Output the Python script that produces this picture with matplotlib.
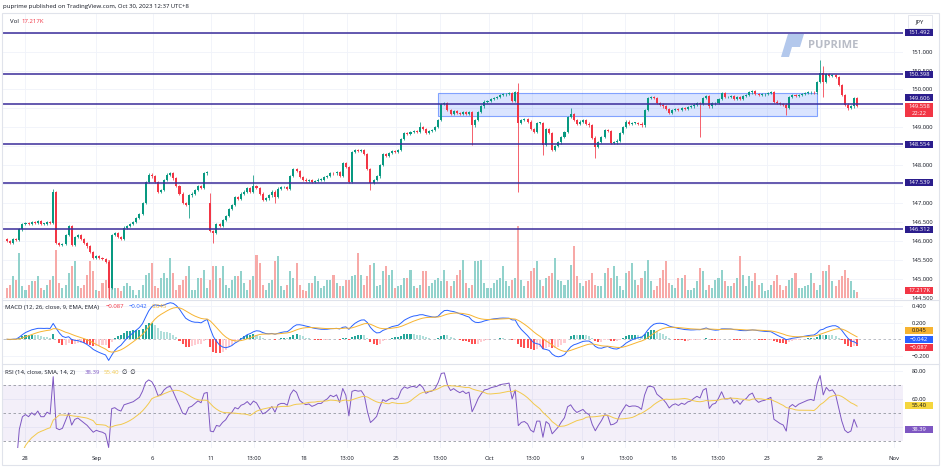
import numpy as np
import pandas as pd
import matplotlib
matplotlib.use("Agg")
import matplotlib.pyplot as plt
from matplotlib.patches import Rectangle, Polygon

plt.rcParams['font.family'] = ['Open Sans', 'DejaVu Sans']

W, H = 941, 469
TXT = '#131722'
UP, DOWN = '#089981', '#f23645'

# USDJPY 4h closes, six bars per trading day (Aug 25 .. Oct 30)
closes = [
    146.00, 145.95, 146.05, 146.02, 146.30, 146.45,  # Aug 25
    146.48, 146.45, 146.50, 146.47, 146.52, 146.45,  # Aug 28
    146.45, 146.50, 146.48, 147.28, 145.95, 145.88,  # Aug 29
    145.92, 146.15, 146.40, 145.90, 146.10, 146.15,  # Aug 30
    146.05, 145.95, 145.85, 145.70, 145.55, 145.60,  # Aug 31
    145.55, 145.52, 145.45, 144.75, 146.15, 146.20,  # Sep 1
    146.10, 146.05, 146.35, 146.40, 146.45, 146.50,  # Sep 4
    146.60, 146.70, 147.00, 147.55, 147.75, 147.70,  # Sep 5
    147.55, 147.30, 147.35, 147.60, 147.75, 147.80,  # Sep 6
    147.65, 147.45, 147.25, 147.00, 146.95, 147.20,  # Sep 7
    147.25, 147.35, 147.45, 147.40, 147.78, 147.82,  # Sep 8
    146.25, 146.20, 146.45, 146.40, 146.55, 146.65,  # Sep 11
    146.85, 146.95, 147.15, 147.10, 147.25, 147.30,  # Sep 12
    147.40, 147.30, 147.45, 147.40, 147.25, 147.08,  # Sep 13
    147.12, 147.20, 147.30, 147.15, 147.38, 147.42,  # Sep 14
    147.42, 147.38, 147.72, 147.90, 147.85, 147.68,  # Sep 15
    147.62, 147.58, 147.60, 147.55, 147.58, 147.62,  # Sep 18
    147.62, 147.68, 147.72, 147.80, 147.78, 147.82,  # Sep 19
    147.72, 148.05, 147.95, 147.55, 148.35, 148.40,  # Sep 20
    148.38, 148.40, 148.30, 147.90, 147.52, 147.60,  # Sep 21
    147.70, 148.00, 148.30, 148.25, 148.33, 148.38,  # Sep 22
    148.35, 148.40, 148.70, 148.85, 148.82, 148.88,  # Sep 25
    148.90, 148.88, 149.00, 148.95, 148.85, 148.90,  # Sep 26
    148.92, 149.00, 149.20, 149.62, 149.65, 149.45,  # Sep 27
    149.35, 149.42, 149.38, 149.35, 149.40, 149.36,  # Sep 28
    149.40, 149.05, 149.20, 149.40, 149.55, 149.68,  # Sep 29
    149.70, 149.75, 149.78, 149.80, 149.85, 149.87,  # Oct 2
    149.88, 149.90, 149.70, 149.92, 149.12, 149.20,  # Oct 3
    149.22, 149.15, 148.95, 148.88, 149.12, 149.12,  # Oct 4
    148.53, 148.95, 148.85, 148.40, 148.50, 148.60,  # Oct 5
    148.75, 148.88, 149.27, 149.35, 149.20, 149.10,  # Oct 6
    149.15, 149.20, 149.10, 149.05, 148.73, 148.48,  # Oct 9
    148.62, 148.75, 148.92, 148.90, 148.58, 148.60,  # Oct 10
    148.65, 148.85, 149.00, 149.15, 149.10, 149.12,  # Oct 11
    149.12, 149.10, 149.05, 149.45, 149.77, 149.80,  # Oct 12
    149.78, 149.65, 149.60, 149.55, 149.48, 149.38,  # Oct 13
    149.45, 149.48, 149.45, 149.50, 149.48, 149.53,  # Oct 16
    149.55, 149.60, 149.64, 149.62, 149.78, 149.82,  # Oct 17
    149.55, 149.63, 149.65, 149.75, 149.90, 149.80,  # Oct 18
    149.80, 149.82, 149.75, 149.80, 149.75, 149.82,  # Oct 19
    149.85, 149.92, 149.95, 149.88, 149.85, 149.87,  # Oct 20
    149.88, 149.90, 149.92, 149.68, 149.65, 149.62,  # Oct 23
    149.60, 149.51, 149.81, 149.85, 149.82, 149.86,  # Oct 24
    149.88, 149.90, 149.92, 149.93, 149.92, 150.20,  # Oct 25
    150.43, 150.20, 150.40, 150.35, 150.38, 150.32,  # Oct 26
    150.12, 149.85, 149.60, 149.52, 149.55, 149.77,  # Oct 27
    149.558,                                          # Oct 30
]
first_open = 146.05
open_gaps = {66: 147.00}
# bars whose wicks reach well past the body: index -> (high, low)
wick_extremes = {
    15: (147.37, None), 33: (None, 144.45), 59: (None, 146.60), 66: (147.26, None),
    67: (None, 145.94), 80: (147.73, None), 87: (None, 147.00), 118: (None, 147.34),
    134: (149.14, None), 151: (None, 148.53), 166: (150.16, 147.30), 174: (None, 148.27),
    183: (149.50, None), 191: (None, 148.19), 225: (None, 148.75), 253: (None, 149.32),
    264: (150.78, None), 265: (150.62, 149.81), 273: (None, 149.45),
}

# volume in K
volumes = [
    30, 40, 65, 55, 135, 35, 25, 40, 50, 50, 65, 30, 25, 40, 55, 65, 145, 45,
    30, 40, 75, 95, 110, 35, 30, 40, 70, 110, 80, 25, 20, 45, 55, 115, 135, 30,
    30, 20, 35, 45, 35, 25, 10, 25, 40, 70, 75, 105, 35, 30, 60, 75, 60, 120,
    75, 25, 40, 55, 65, 95, 25, 25, 60,
    60, 85, 30, 55, 95, 95, 60, 95, 40, 30, 55, 65, 65, 80, 45, 25, 55, 65, 130, 105,
    40, 25, 45, 55, 110, 125, 35, 25, 40, 80, 60, 105, 40, 25, 20, 45, 45, 65, 50, 30,
    35, 55, 55, 70, 45, 35, 35, 55, 55, 65, 70, 135, 70, 40, 65, 100, 105, 35, 40, 80,
    95, 70, 85, 30, 35, 40, 60, 60, 85, 35, 30, 40, 80, 80,
    35, 45, 55, 60, 50, 85, 50, 35, 50, 70, 85, 115, 45, 30, 40, 110, 110, 115, 45, 30,
    30, 45, 55, 60, 95, 50, 35, 55, 60, 215, 55, 35, 50, 80, 90, 110, 55, 35, 60, 65,
    75, 120, 55, 50, 40, 55, 100, 155, 65, 45, 35, 50, 55, 75, 40, 35, 35, 75, 90, 60,
    95, 65, 35, 25, 75, 80, 105, 55, 40,
    60, 80, 115, 50, 25, 35, 60, 85, 110, 45, 40, 30, 60, 60, 70, 25, 25, 30, 50, 90,
    80, 25, 40, 30, 55, 60, 85, 50, 35, 35, 45, 60, 125, 70, 35, 65, 50, 75, 40, 45,
    20, 25, 40, 50, 70, 40, 25, 35, 55, 60, 75, 30, 30, 35, 40, 75, 45, 25, 40, 80,
    80, 100, 50, 35, 55, 65, 85, 60, 50, 25, 17.217,
]

levels = [151.492, 150.398, 149.606, 148.554, 147.539, 146.312]
zone_low, zone_high = 149.30, 149.90
zone_start, zone_end = 140, 263

price_ticks = [151.0, 150.5, 150.0, 149.0, 148.0, 147.0, 146.5, 146.0, 145.5, 145.0, 144.5]
tick_pos = [6, 29, 47.3, 66.2, 80.2, 96.2, 110.3, 126.3, 140.5, 156.5, 170.6,
            186.7, 200.8, 216.6, 230.7, 246.8, 264, 288]
tick_labels = ['28', 'Sep', '6', '11', '13:00', '18', '13:00', '25', '13:00', 'Oct',
               '13:00', '9', '13:00', '16', '13:00', '23', '26', 'Nov']

# ---- derived series
c = np.array(closes)
n = len(c)
x = np.arange(n)
o = np.r_[first_open, c[:-1]]
for i, v in open_gaps.items():
    o[i] = v
WICK = 0.03
hi = np.maximum(o, c) + WICK
lo = np.minimum(o, c) - WICK
for i, (h, l) in wick_extremes.items():
    if h is not None:
        hi[i] = h
    if l is not None:
        lo[i] = l
up = c >= o

s = pd.Series(c)
macd = s.ewm(span=12, adjust=False).mean() - s.ewm(span=26, adjust=False).mean()
signal = macd.ewm(span=9, adjust=False).mean()
hist = macd - signal
prev = hist.shift(1).fillna(0)
hist_col = np.where(hist >= 0, np.where(hist >= prev, '#26a69a', '#b2dfdb'),
                    np.where(hist < prev, '#ff5252', '#ffcdd2'))

delta = s.diff()
gain = delta.clip(lower=0).ewm(alpha=1 / 14, adjust=False).mean()
loss = (-delta.clip(upper=0)).ewm(alpha=1 / 14, adjust=False).mean()
rsi = 100 - 100 / (1 + gain / loss)
rsi_ma = rsi.rolling(14, min_periods=1).mean()

# ---- layout
fig = plt.figure(figsize=(W / 100, H / 100), dpi=100)
fig.patch.set_facecolor('white')


def rect(x0, y0, x1, y1):
    return [x0 / W, 1 - y1 / H, (x1 - x0) / W, (y1 - y0) / H]


ax_v = fig.add_axes(rect(3, 14, 903, 300))
ax = fig.add_axes(rect(3, 14, 903, 300), sharex=ax_v)
ax_m = fig.add_axes(rect(3, 300, 903, 364), sharex=ax_v)
ax_r = fig.add_axes(rect(3, 364, 903, 448), sharex=ax_v)
ax.patch.set_visible(False)

XL = (-1.3, 290.9)
PLO, PHI = 144.436, 151.994
VLO, VHI = -6, 850
ax_v.set_xlim(*XL)
ax.set_ylim(PLO, PHI)
ax_v.set_ylim(VLO, VHI)
ax_m.set_ylim(-0.298, 0.473)
ax_r.set_ylim(25, 85)

GRID = '#f0f3fa'
for a in (ax_v, ax_m, ax_r, ax):
    for sp in a.spines.values():
        sp.set_visible(False)
    a.tick_params(length=0, labelsize=4.2, colors=TXT)
    a.yaxis.tick_right()
for a in (ax_v, ax_m, ax_r):
    for t in tick_pos:
        a.axvline(t, color=GRID, lw=0.6, zorder=0)
for a in (ax, ax_m):
    a.tick_params(labelbottom=False)
ax_v.tick_params(labelbottom=False, labelright=False)
ax_v.set_yticks([])

# price pane, grid drawn on the volume axes so it stays under the bars
ax.set_yticks(price_ticks)
ax.set_yticklabels([f'{p:.3f}' for p in price_ticks])
ax.tick_params(axis='y', pad=6)
for p in np.arange(144.5, 152.0, 0.5):
    ax_v.axhline(VLO + (p - PLO) / (PHI - PLO) * (VHI - VLO), color=GRID, lw=0.6, zorder=0)

ax_v.bar(x, volumes, width=0.66, color=np.where(up, '#92d2cc', '#f7a9a7'), linewidth=0)

ax.add_patch(Rectangle((zone_start, zone_low), zone_end - zone_start, zone_high - zone_low,
                       facecolor=(0.16, 0.38, 1.0, 0.17), edgecolor=(0.16, 0.38, 1.0, 0.55),
                       lw=0.8, zorder=1))
ax.vlines(x, lo, hi, colors=np.where(up, UP, DOWN), lw=0.55, zorder=2)
body = np.maximum(np.abs(c - o), 0.012)
ax.bar(x, body, bottom=np.minimum(o, c), width=0.66,
       color=np.where(up, UP, DOWN), linewidth=0, zorder=3)
for lv in levels:
    ax.axhline(lv, color='#3a2c9a', lw=1.1, zorder=4)

# MACD pane
ax_m.set_yticks([0.4, 0.2, -0.2])
ax_m.set_yticklabels(['0.400', '0.200', '\u22120.200'])
ax_m.tick_params(axis='y', pad=6)
for g in (0.4, 0.2, -0.2):
    ax_m.axhline(g, color=GRID, lw=0.6, zorder=0)
ax_m.axhline(0, color='#b2b5be', lw=0.6, ls=(0, (3, 3)), zorder=1)
ax_m.bar(x, hist, width=0.66, color=hist_col, linewidth=0, zorder=2)
ax_m.plot(x, macd, color='#2962ff', lw=0.7, zorder=3)
ax_m.plot(x, signal, color='#f7b431', lw=0.7, zorder=3)

# RSI pane
ax_r.set_yticks([80, 60])
ax_r.set_yticklabels(['80.00', '60.00'])
ax_r.tick_params(axis='y', pad=6)
for g in (80, 60, 40):
    ax_r.axhline(g, color=GRID, lw=0.6, zorder=0)
ax_r.axhspan(30, 70, color='#7e57c2', alpha=0.09, lw=0, zorder=0.5)
for g in (70, 50, 30):
    ax_r.axhline(g, color='#9598a1', lw=0.6, ls=(0, (3, 3)), zorder=1)
ax_r.plot(x, rsi, color='#7e57c2', lw=0.7, zorder=3)
ax_r.plot(x, rsi_ma, color='#f2c94c', lw=0.7, zorder=3)
ax_r.set_xticks(tick_pos)
ax_r.set_xticklabels(tick_labels)
ax_r.tick_params(axis='x', pad=6)
ax_r.set_xlim(*XL)

# ---- frame and separators
fig.patches.append(Rectangle((2 / W, 1 - 465 / H), 937 / W, 452 / H, transform=fig.transFigure,
                             fill=False, edgecolor='#e0e3eb', lw=0.8, zorder=1))
for yy in (300, 364):
    fig.lines.append(plt.Line2D([2 / W, 939 / W], [1 - yy / H] * 2, transform=fig.transFigure,
                                color='#e0e3eb', lw=0.8))


def px_of(a, v):
    return H - a.transData.transform((0, v))[1]


def tag(y_px, text, bg, fg='white', h=7.0, x0=905, w=28):
    fig.patches.append(Rectangle((x0 / W, 1 - (y_px + h / 2) / H), w / W, h / H,
                                 transform=fig.transFigure, facecolor=bg,
                                 edgecolor='none', zorder=5))
    fig.text((x0 + w / 2) / W, 1 - y_px / H, text, color=fg, fontsize=4.2,
             ha='center', va='center', zorder=6)


NAVY = '#2b1d8c'
for lv in levels:
    yp = px_of(ax, lv)
    if lv == 149.606:
        yp = 98
    tag(yp, f'{lv:.3f}', NAVY)
# last price with countdown
fig.patches.append(Rectangle((905 / W, 1 - 117 / H), 28 / W, 14 / H, transform=fig.transFigure,
                             facecolor=DOWN, edgecolor='none', zorder=5))
fig.text(919 / W, 1 - 106.5 / H, '149.558', color='white', fontsize=4.2,
         ha='center', va='center', zorder=6)
fig.text(919 / W, 1 - 113.5 / H, '22:22', color='white', fontsize=4.2,
         ha='center', va='center', zorder=6)
tag(px_of(ax_v, volumes[-1]) - 2, '17.217K', DOWN)
tag(330, '0.045', '#f7b431', fg=TXT)
tag(339, '\u22120.042', '#2962ff')
tag(347.5, '\u22120.087', DOWN)
tag(px_of(ax_r, 55.40), '55.40', '#f5d63d', fg=TXT)
tag(px_of(ax_r, 38.39), '38.39', '#7e57c2')

# JPY box
fig.patches.append(Rectangle((908 / W, 1 - 28 / H), 24 / W, 13 / H, transform=fig.transFigure,
                             facecolor='white', edgecolor='#e0e3eb', lw=0.6, zorder=5))
fig.text(920 / W, 1 - 21.5 / H, 'JPY', color=TXT, fontsize=4.2, ha='center', va='center', zorder=6)

# header and legends
fig.text(3 / W, 1 - 6.5 / H, 'puprime published on TradingView.com, Oct 30, 2023 12:37 UTC+8',
         color=TXT, fontsize=4.3, va='center')
fig.text(10 / W, 1 - 21.5 / H, 'Vol', color=TXT, fontsize=4.3, va='center')
fig.text(21 / W, 1 - 21.5 / H, '17.217K', color=DOWN, fontsize=4.3, va='center')

fig.text(5 / W, 1 - 307 / H, 'MACD (12, 26, close, 9, EMA, EMA)', color=TXT, fontsize=4.3, va='center')
fig.text(106 / W, 1 - 307 / H, '\u22120.087', color=DOWN, fontsize=4.3, va='center')
fig.text(129 / W, 1 - 307 / H, '\u22120.042', color='#2962ff', fontsize=4.3, va='center')
fig.text(152 / W, 1 - 307 / H, '0.045', color='#f7b431', fontsize=4.3, va='center')

fig.text(5 / W, 1 - 372 / H, 'RSI (14, close, SMA, 14, 2)', color=TXT, fontsize=4.3, va='center')
fig.text(85 / W, 1 - 372 / H, '38.39', color='#7e57c2', fontsize=4.3, va='center')
fig.text(104 / W, 1 - 372 / H, '55.40', color='#f2c94c', fontsize=4.3, va='center')
fig.text(122 / W, 1 - 372 / H, '\u2205  \u2205', color=TXT, fontsize=4.3, va='center')

# watermark
logo = [(788, 34), (804, 34), (800, 47), (792, 47), (789, 57), (781, 57)]
fig.patches.append(Polygon([(px / W, 1 - py / H) for px, py in logo], closed=True,
                           transform=fig.transFigure, facecolor='#b3c8ec', edgecolor='none', zorder=1))
fig.text(833 / W, 1 - 46 / H, 'PUPRIME', color='#b8bcc6', fontsize=8, fontweight='bold',
         ha='center', va='center', zorder=1)

fig.savefig('out.png', dpi=100, facecolor='white')
